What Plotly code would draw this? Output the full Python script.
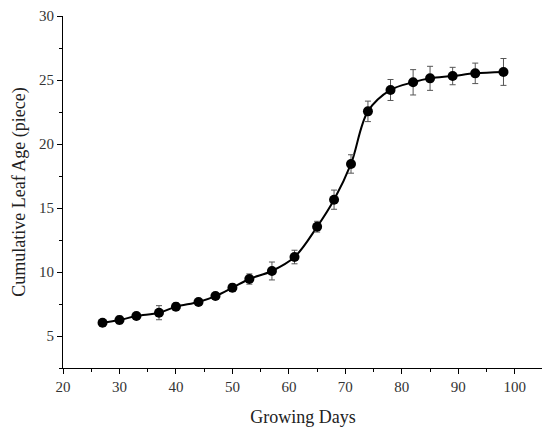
import plotly.graph_objects as go

# jours de croissance et âge foliaire cumulé (moyenne +/- écart-type)
days = [27, 30, 33, 37, 40, 44, 47, 50, 53, 57, 61, 65, 68, 71, 74, 78, 82, 85, 89, 93, 98]
leaf_age = [6.04, 6.25, 6.56, 6.82, 7.29, 7.66, 8.12, 8.77, 9.45, 10.08, 11.17, 13.54,
            15.65, 18.44, 22.55, 24.22, 24.82, 25.13, 25.31, 25.52, 25.63]
leaf_err = [0.2, 0.3, 0.2, 0.55, 0.3, 0.2, 0.2, 0.3, 0.4, 0.7, 0.53, 0.42,
            0.75, 0.72, 0.8, 0.82, 0.99, 0.94, 0.68, 0.8, 1.05]

fig = go.Figure()

# courbe lissée
fig.add_trace(go.Scatter(
    x=days, y=leaf_age,
    mode='lines',
    line=dict(color='black', width=2, shape='spline', smoothing=1.0),
    hoverinfo='skip',
    showlegend=False
))

# points avec barres d'erreur
fig.add_trace(go.Scatter(
    x=days, y=leaf_age,
    mode='markers',
    marker=dict(color='black', size=10),
    error_y=dict(type='data', array=leaf_err, color='#555555', thickness=1, width=3),
    showlegend=False
))

axis_font = dict(family='Liberation Serif', size=15, color='#333333')

# la page ajoute ~8px de marge au body, on compense dans les marges
fig.update_layout(
    width=550, height=433,
    margin=dict(l=55, r=15, t=8, b=73),
    plot_bgcolor='white',
    paper_bgcolor='white',
    font=axis_font,
    xaxis=dict(
        range=[20, 105],
        tickvals=[20, 30, 40, 50, 60, 70, 80, 90, 100],
        ticks='outside', ticklen=5, tickcolor='black',
        minor=dict(dtick=5, tick0=20, ticks='outside', ticklen=3, tickcolor='black'),
        showline=True, linecolor='black', linewidth=1,
        showgrid=False, zeroline=False, automargin=False,
        title=dict(text='Growing Days', font=dict(family='Liberation Serif', size=18, color='#222222'), standoff=16)
    ),
    yaxis=dict(
        range=[2.5, 30],
        tickvals=[5, 10, 15, 20, 25, 30],
        ticks='outside', ticklen=5, tickcolor='black',
        minor=dict(dtick=2.5, tick0=0, ticks='outside', ticklen=3, tickcolor='black'),
        showline=True, linecolor='black', linewidth=1,
        showgrid=False, zeroline=False, automargin=False,
        title=dict(text='Cumulative Leaf Age (piece)', font=dict(family='Liberation Serif', size=18, color='#222222'), standoff=8)
    )
)

fig.write_html("out.html")
